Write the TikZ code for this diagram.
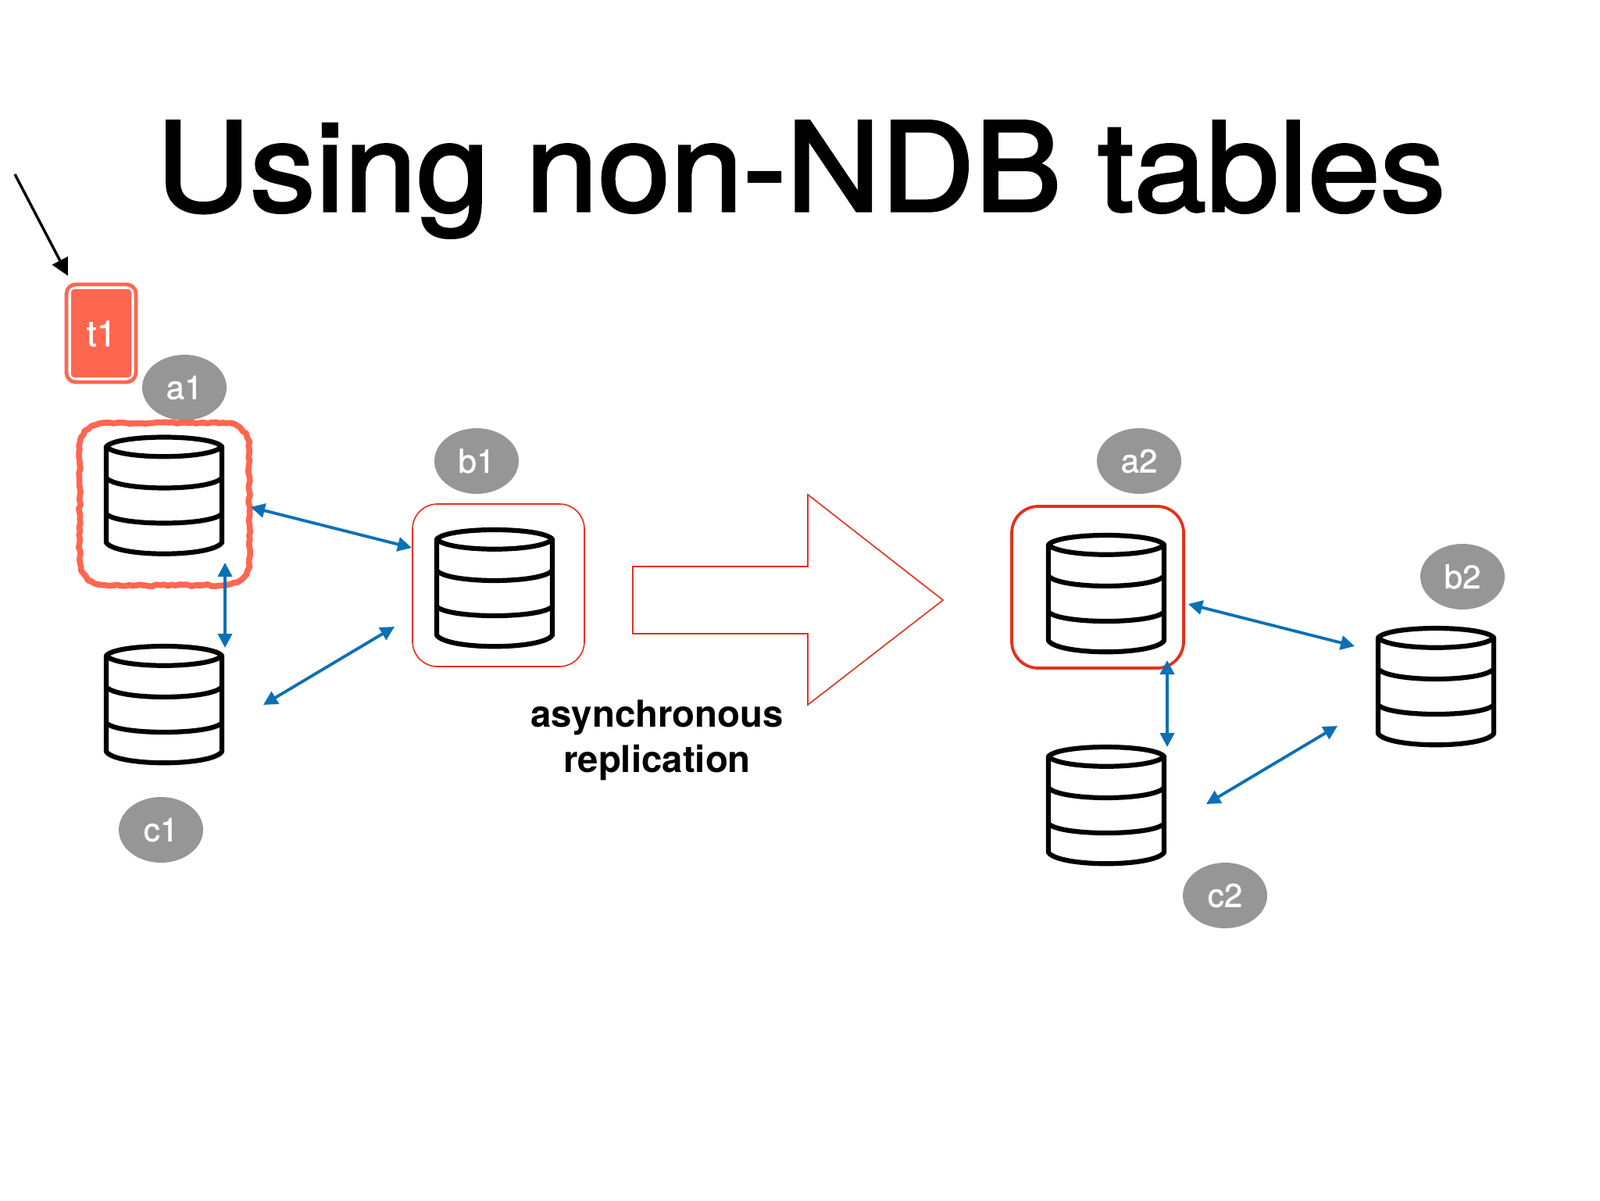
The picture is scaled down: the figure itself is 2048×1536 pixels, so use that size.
\documentclass[tikz,border=0pt]{standalone}
\usepackage{fontspec}
\setmainfont{TeX Gyre Heros}
\newfontfamily\titlefont[FakeBold=2.2,FakeStretch=1.056]{TeX Gyre Heros}
\newfontfamily\tagfont[FakeBold=1.0]{TeX Gyre Heros}
\usetikzlibrary{arrows.meta,shapes.geometric,decorations.pathmorphing}
\definecolor{coral}{HTML}{FF6650}
\definecolor{linkblue}{HTML}{0A70B6}
\definecolor{boxred}{HTML}{E5301C}
\definecolor{tagrey}{HTML}{969696}
\tikzset{
  tag/.style={ellipse,fill=tagrey,text=white,inner sep=0pt,minimum width=54pt,minimum height=42pt,font=\tagfont\fontsize{21}{22}\selectfont},
  link/.style={linkblue,line width=1.9pt,{Triangle[length=9pt,width=9pt]}-{Triangle[length=9pt,width=9pt]}},
  thinbox/.style={draw=boxred,line width=0.8pt,rounded corners=16pt},
  dbcyl/.pic={
    \draw[line width=3.1pt,line join=round,line cap=round]
      (-74,-62) .. controls (-60,-78) and (60,-78) .. (74,-62)
      .. controls (60,-45) and (-60,-45) .. (-74,-62) -- (-74,61)
      .. controls (-60,80) and (60,80) .. (74,61) -- (74,-62);
    \draw[line width=3.1pt,line cap=round]
      (-74,-22) .. controls (-60,-4.7) and (60,-4.7) .. (74,-22)
      (-74,24) .. controls (-60,40) and (60,40) .. (74,24);
  }
}
\begin{document}
\begin{tikzpicture}[x=0.5pt,y=-0.5pt]
\useasboundingbox (0,0) rectangle (2048,1536);
% title
\node[anchor=base,inner sep=0pt,font=\titlefont\fontsize{79}{90}\selectfont] (title) at (1025,270) {Using non-NDB tables};
% t1
\path[fill=white,draw=coral,line width=2.4pt,rounded corners=6pt] (85,364) rectangle (174,489);
\path[fill=coral,rounded corners=2pt] (91,370) rectangle (168,483);
\node[text=white,font=\tagfont\fontsize{23}{24}\selectfont] (t1) at (130,427) {t1};
\coordinate (arrowstart) at (19,223);
\coordinate (arrowend) at (87,353);
\draw[line width=1.7pt,-{Triangle[length=11pt,width=11pt]}] (arrowstart) -- (arrowend);
% tags
\node[tag] (a1) at (236,496) {a1};
\node[tag] (b1) at (610,590) {b1};
\node[tag] (c1) at (206,1062) {c1};
\node[tag] (a2) at (1458,590) {a2};
\node[tag] (b2) at (1872,738) {b2};
\node[tag] (c2) at (1568,1146) {c2};
% cylinders
\pic at (210,633.5) {dbcyl};
\pic at (633,752) {dbcyl};
\pic at (210,901) {dbcyl};
\pic at (1416,759) {dbcyl};
\pic at (1416,1030) {dbcyl};
\pic at (1838,878) {dbcyl};
% boxes
\draw[coral,line width=3.8pt,line join=round,decorate,decoration={random steps,segment length=2.5pt,amplitude=0.6pt}]
  (136,541) -- (285,541) .. controls (306,541) and (319,554) .. (319,575)
  -- (319,715) .. controls (319,736) and (306,749) .. (285,749)
  -- (136,749) .. controls (115,749) and (102,736) .. (102,715)
  -- (102,575) .. controls (102,554) and (115,541) .. (136,541);
\draw[thinbox] (528,645) rectangle (748,853);
\draw[boxred,line width=1.9pt,rounded corners=17pt] (1295,648) rectangle (1515,855);
% big arrow
\draw[boxred,line width=0.8pt,line join=miter] (810,725) -- (1034,725) -- (1034,633) -- (1207,768) -- (1034,902) -- (1034,811) -- (810,811) -- cycle;
\node[align=center,font=\fontsize{23.7}{29}\selectfont\bfseries] (async) at (841,947) {asynchronous\\replication};
% connectors
\coordinate (la1) at (321,649); \coordinate (lb1) at (527,701);
\coordinate (la1c) at (288,720); \coordinate (lc1a) at (288,829);
\coordinate (lc1b) at (337,902); \coordinate (lb1c) at (505,802);
\coordinate (la2) at (1521,773); \coordinate (lb2) at (1734,827);
\coordinate (la2c) at (1494,845); \coordinate (lc2a) at (1494,956);
\coordinate (lc2b) at (1544,1029); \coordinate (lb2c) at (1712,929);
\draw[link] (la1) -- (lb1);
\draw[link] (la1c) -- (lc1a);
\draw[link] (lc1b) -- (lb1c);
\draw[link] (la2) -- (lb2);
\draw[link] (la2c) -- (lc2a);
\draw[link] (lc2b) -- (lb2c);
\end{tikzpicture}
\end{document}
